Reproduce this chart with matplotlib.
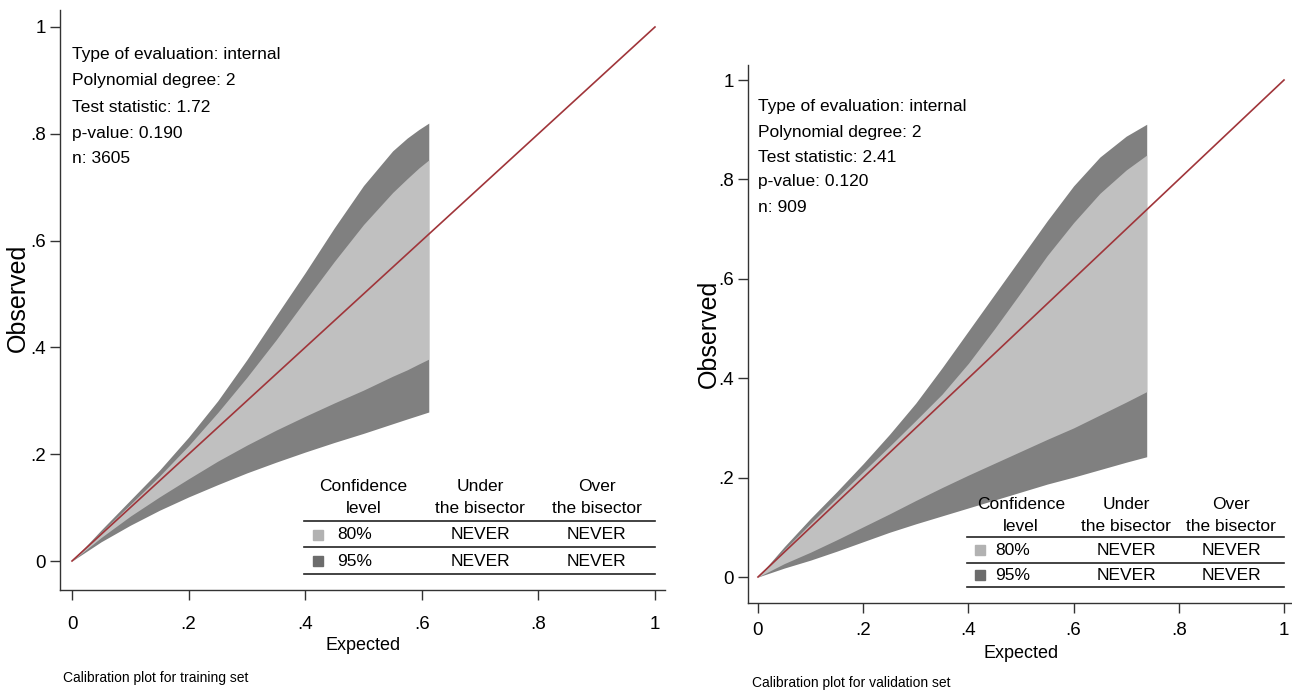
import matplotlib
matplotlib.use('Agg')
import matplotlib.pyplot as plt
from matplotlib import font_manager as fm

names = {f.name for f in fm.fontManager.ttflist}
if 'Liberation Sans Narrow' in names:
    FONT, FS, FSC, FSV = 'Liberation Sans Narrow', 14, 10.5, 18
else:
    FONT, FS, FSC, FSV = 'Liberation Sans', 12.5, 10, 18
plt.rcParams['font.family'] = [FONT, 'DejaVu Sans']

# ---------------- data ----------------
tick_vals = [0, .2, .4, .6, .8, 1]
tick_labels = ['0', '.2', '.4', '.6', '.8', '1']

# training set belt
train_x    = [0, .05, .10, .15, .20, .25, .30, .35, .40, .45, .50, .55, .575, .595, .612]
train_up95 = [0, .058, .114, .170, .232, .300, .377, .459, .540, .624, .703, .768, .792, .808, .820]
train_up80 = [0, .054, .106, .159, .216, .278, .344, .414, .488, .561, .630, .690, .716, .736, .751]
train_lo80 = [0, .044, .084, .120, .154, .187, .217, .245, .271, .296, .320, .346, .358, .369, .378]
train_lo95 = [0, .036, .067, .095, .120, .143, .165, .185, .204, .222, .239, .257, .266, .273, .279]

# validation set belt
valid_x    = [0, .05, .10, .15, .20, .25, .30, .35, .40, .45, .50, .55, .60, .65, .70, .739]
valid_up95 = [0, .061, .118, .172, .228, .287, .350, .421, .495, .569, .643, .717, .787, .845, .887, .911]
valid_up80 = [0, .055, .108, .160, .212, .263, .315, .368, .430, .500, .573, .647, .713, .772, .819, .849]
valid_lo80 = [0, .027, .050, .075, .101, .127, .154, .180, .205, .229, .253, .277, .300, .326, .352, .373]
valid_lo95 = [0, .018, .034, .052, .071, .090, .107, .123, .139, .155, .171, .187, .201, .216, .231, .242]

train_info = ['Type of evaluation: internal', 'Polynomial degree: 2',
              'Test statistic: 1.72', 'p-value: 0.190', 'n: 3605']
valid_info = ['Type of evaluation: internal', 'Polynomial degree: 2',
              'Test statistic: 2.41', 'p-value: 0.120', 'n: 909']

table_header = ['Confidence\nlevel', 'Under\nthe bisector', 'Over\nthe bisector']
conf_levels = ['80%', '95%']
train_under = ['NEVER', 'NEVER']
train_over = ['NEVER', 'NEVER']
valid_under = ['NEVER', 'NEVER']
valid_over = ['NEVER', 'NEVER']

captions = ['Calibration plot for training set', 'Calibration plot for validation set']

# ---------------- styling ----------------
DARK = '#808080'
LIGHT = '#c0c0c0'
SQ_LIGHT = '#b2b2b2'
SQ_DARK = '#6c6c6c'
RED = '#a0353a'
AX = '#333333'

W, H = 1292, 692
fig = plt.figure(figsize=(W / 100, H / 100), dpi=100)
fig.patch.set_facecolor('white')


def px_axes(left, right, top, bottom):
    return fig.add_axes([left / W, 1 - bottom / H, (right - left) / W, (bottom - top) / H])


def panel(ax, xlim, ylim, x, up95, up80, lo80, lo95, info, info_y,
          under, over, line_y, row_y, head_y, xpad):
    ax.set_xlim(*xlim)
    ax.set_ylim(*ylim)
    ax.fill_between(x, lo95, up95, color=DARK, lw=0, zorder=1)
    ax.fill_between(x, lo80, up80, color=LIGHT, lw=0, zorder=2)
    ax.plot([0, 1], [0, 1], color=RED, lw=1.2, zorder=3)

    for s in ['top', 'right']:
        ax.spines[s].set_visible(False)
    for s in ['left', 'bottom']:
        ax.spines[s].set_color(AX)
        ax.spines[s].set_linewidth(1.0)
    ax.set_xticks(tick_vals)
    ax.set_xticklabels(tick_labels)
    ax.set_yticks(tick_vals)
    ax.set_yticklabels(tick_labels)
    ax.tick_params(axis='both', direction='out', length=7, width=1.0,
                   color=AX, labelsize=FS + 1, labelcolor='black')
    ax.tick_params(axis='x', pad=xpad)
    ax.tick_params(axis='y', pad=3)

    for t, yy in zip(info, info_y):
        ax.text(0.0, yy, t, fontsize=FS, va='center', ha='left', zorder=5)

    # table
    for ly in line_y:
        ax.plot([0.398, 1.0], [ly, ly], color='#222222', lw=1.2, zorder=5)
    cols = [0.5, 0.70, 0.90]
    for c, h in zip(cols, table_header):
        l1, l2 = h.split('\n')
        ax.text(c, head_y[0], l1, fontsize=FS, ha='center', va='center', zorder=6)
        ax.text(c, head_y[1], l2, fontsize=FS, ha='center', va='center', zorder=6)
    sq_cols = [SQ_LIGHT, SQ_DARK]
    for i in range(2):
        ax.plot([0.422], [row_y[i]], marker='s', ms=7, color=sq_cols[i], lw=0, zorder=6)
        ax.text(cols[0] - 0.015, row_y[i], conf_levels[i], fontsize=FS, ha='center', va='center', zorder=6)
        ax.text(cols[1], row_y[i], under[i], fontsize=FS, ha='center', va='center', zorder=6)
        ax.text(cols[2], row_y[i], over[i], fontsize=FS, ha='center', va='center', zorder=6)


# left panel: x_px = 72 + 583x ; y_px = 561 - 534y
axL = px_axes(60, 665, 10, 590)
panel(axL, (-0.0206, 1.0172), (-0.0543, 1.0318),
      train_x, train_up95, train_up80, train_lo80, train_lo95,
      train_info, [.948, .899, .850, .801, .753],
      train_under, train_over,
      line_y=[.0749, .0262, -.0243], row_y=[.0487, 0.0], head_y=[.139, .0975],
      xpad=12)

# right panel: x_px = 758 + 526x ; y_px = 577 - 497y
axR = px_axes(748, 1292, 65, 603)
panel(axR, (-0.019, 1.0152), (-0.0523, 1.0302),
      valid_x, valid_up95, valid_up80, valid_lo80, valid_lo95,
      valid_info, [.946, .895, .845, .795, .744],
      valid_under, valid_over,
      line_y=[.0805, .0282, -.0201], row_y=[.0543, .004], head_y=[.145, .101],
      xpad=7)

# axis titles
fig.text(18 / W, 1 - 298 / H, 'Observed', rotation=90, fontsize=FSV, ha='center', va='center')
fig.text(709 / W, 1 - 334 / H, 'Observed', rotation=90, fontsize=FSV, ha='center', va='center')
fig.text(363 / W, 1 - 645 / H, 'Expected', fontsize=FS + 0.5, ha='center', va='center')
fig.text(1021 / W, 1 - 653 / H, 'Expected', fontsize=FS + 0.5, ha='center', va='center')

# captions
fig.text(63 / W, 1 - 678 / H, captions[0], fontsize=FSC, ha='left', va='center')
fig.text(752 / W, 1 - 683 / H, captions[1], fontsize=FSC, ha='left', va='center')

fig.savefig('out.png', dpi=100, facecolor='white')
